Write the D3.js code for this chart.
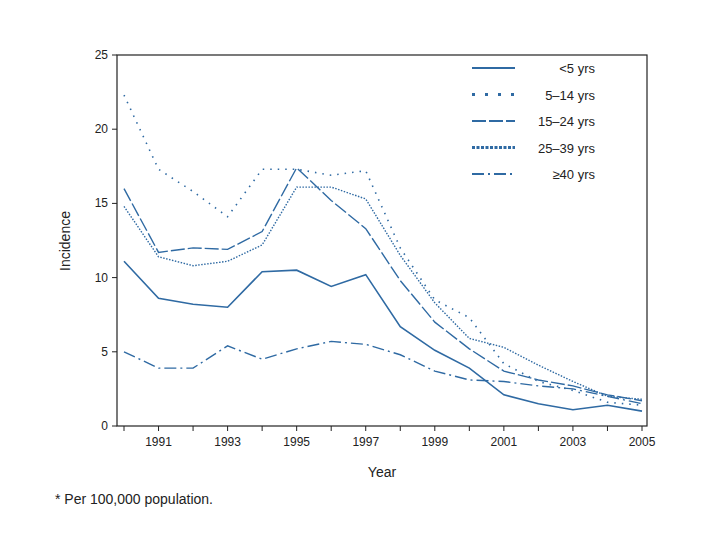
<!DOCTYPE html>
<html><head><meta charset="utf-8">
<script src="https://cdn.jsdelivr.net/npm/d3@7"></script>
<style>body{margin:0;background:#fff;font-family:"Liberation Sans",Arial,sans-serif;}</style>
</head><body>
<script>
var years = d3.range(1990, 2006);
var under5 = [11.1, 8.6, 8.2, 8.0, 10.4, 10.5, 9.4, 10.2, 6.7, 5.1, 3.9, 2.1, 1.5, 1.1, 1.4, 1.0];
var age5to14 = [22.3, 17.3, 15.8, 14.1, 17.3, 17.3, 16.9, 17.2, 12.0, 8.5, 7.3, 4.2, 3.0, 2.4, 1.6, 1.4];
var age15to24 = [16.0, 11.7, 12.0, 11.9, 13.1, 17.4, 15.2, 13.3, 9.8, 7.0, 5.2, 3.7, 3.1, 2.7, 2.1, 1.7];
var age25to39 = [14.8, 11.4, 10.8, 11.1, 12.2, 16.1, 16.1, 15.3, 11.5, 8.3, 5.9, 5.3, 4.1, 3.0, 2.0, 1.8];
var age40plus = [5.0, 3.9, 3.9, 5.4, 4.5, 5.2, 5.7, 5.5, 4.8, 3.7, 3.1, 3.0, 2.7, 2.5, 2.0, 1.5];
var yTicks = [0, 5, 10, 15, 20, 25];

var color = "#2f6aa3";
var series = [
  {label: "<5 yrs", values: under5, dash: null, width: 1.6},
  {label: "5\u201314 yrs", values: age5to14, dash: "1.5,6", width: 1.6},
  {label: "15\u201324 yrs", values: age15to24, dash: "14,3", width: 1.4},
  {label: "25\u201339 yrs", values: age25to39, dash: "1.5,1.5", width: 1.4},
  {label: "\u226540 yrs", values: age40plus, dash: "12,4,2,4", width: 1.4}
];

var svg = d3.select("body").append("svg").attr("width", 720).attr("height", 540);
var plotL = 117, plotR = 647, plotT = 55, plotB = 426;

var x = d3.scaleLinear().domain([1990, 2005]).range([124, 642]);
var y = d3.scaleLinear().domain([0, 25]).range([plotB, plotT]);

//frame
svg.append("rect").attr("x", plotL).attr("y", plotT).attr("width", plotR - plotL).attr("height", plotB - plotT)
  .attr("fill", "none").attr("stroke", "#222").attr("stroke-width", 1.2);

//y axis ticks
yTicks.forEach(function(t){
  svg.append("line").attr("x1", plotL - 5).attr("x2", plotL).attr("y1", y(t)).attr("y2", y(t)).attr("stroke", "#222");
  svg.append("text").attr("x", plotL - 9).attr("y", y(t) + 4).attr("text-anchor", "end")
    .attr("font-size", 12).attr("fill", "#222").text(t);
});

//x axis ticks
years.forEach(function(yr){
  svg.append("line").attr("x1", x(yr)).attr("x2", x(yr)).attr("y1", plotB).attr("y2", plotB + 5).attr("stroke", "#222");
  if (yr % 2 === 1) {
    svg.append("text").attr("x", x(yr)).attr("y", plotB + 20).attr("text-anchor", "middle")
      .attr("font-size", 12).attr("fill", "#222").text(yr);
  }
});

svg.append("text").attr("x", 382).attr("y", 477).attr("text-anchor", "middle").attr("font-size", 14).attr("fill", "#222").text("Year");
svg.append("text").attr("transform", "translate(70,241) rotate(-90)").attr("text-anchor", "middle")
  .attr("font-size", 14).attr("fill", "#222").text("Incidence");
svg.append("text").attr("x", 55).attr("y", 504).attr("font-size", 14).attr("fill", "#222").text("* Per 100,000 population.");

var line = d3.line().x(function(d, i){ return x(years[i]); }).y(function(d){ return y(d); });

series.forEach(function(s, i){
  svg.append("path").datum(s.values).attr("d", line).attr("fill", "none")
    .attr("stroke", color).attr("stroke-width", s.width).attr("stroke-dasharray", s.dash);
  var ly = 72 + i * 26.5;
  svg.append("line").attr("x1", 472).attr("x2", 515).attr("y1", ly - 4).attr("y2", ly - 4)
    .attr("stroke", color).attr("stroke-width", i === 1 || i === 3 ? 3 : 2)
    .attr("stroke-dasharray", i === 1 ? "3,10" : i === 3 ? "3,1.5" : s.dash);
  svg.append("text").attr("x", 595).attr("y", ly + 1).attr("text-anchor", "end")
    .attr("font-size", 13).attr("fill", "#222").text(s.label);
});
</script>
</body></html>
